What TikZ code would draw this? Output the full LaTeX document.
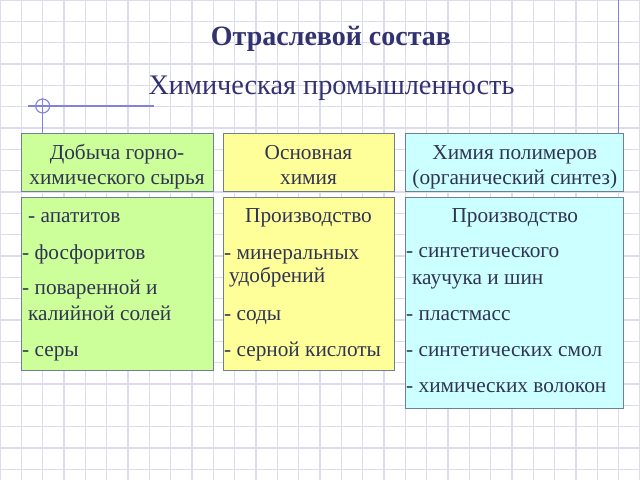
\documentclass[tikz,border=0pt]{standalone}
\usepackage{fontspec}
\setmainfont{Liberation Serif}
\usetikzlibrary{positioning}

\definecolor{gridc}{RGB}{220,220,240}
\definecolor{ornament}{RGB}{130,130,220}
\definecolor{titleblue}{RGB}{50,50,112}
\definecolor{textc}{RGB}{48,52,84}
\definecolor{boxline}{RGB}{112,126,150}
\definecolor{greenfill}{RGB}{204,255,153}
\definecolor{yellowfill}{RGB}{255,255,153}
\definecolor{cyanfill}{RGB}{204,255,255}

\tikzset{
  panel/.style={rectangle, draw=boxline, line width=0.8pt, inner sep=0pt},
  boxtext/.style={font=\fontsize{21.3}{26}\selectfont, text=textc, inner sep=0pt},
  deco/.style={draw=ornament, line width=1.1pt}
}

\begin{document}
\begin{tikzpicture}[x=1pt,y=-1pt]

    \useasboundingbox (0,0) rectangle (640,480);
    \fill[white] (0,0) rectangle (640,480);

    % paper grid
    \draw[gridc, line width=1.2pt, step=21.3333pt] (0,0) grid (640,480);

    % slide ornaments
    \coordinate (hl) at (28,106);
    \coordinate (hr) at (154,106);
    \coordinate (vt) at (42.7,98);
    \coordinate (vb) at (42.7,140);
    \coordinate (mt) at (618.7,0);
    \coordinate (mb) at (618.7,140);
    \draw[deco] (hl) -- (hr);
    \draw[deco] (vt) -- (vb);
    \draw[deco] (42.7,106) circle (7);
    \draw[deco] (mt) -- (mb);

    % titles
    \node[font=\fontsize{28}{30}\selectfont\bfseries, text=titleblue,
          anchor=base, inner sep=0pt] (title) at (331,45) {Отраслевой состав};
    \node[font=\fontsize{28.3}{30}\selectfont, text=titleblue,
          anchor=base, inner sep=0pt] (subtitle) at (331.5,94) {Химическая промышленность};

    % column heads
    \node[panel,
          fill = greenfill,
          minimum width = 192, 
          minimum height = 58] (mining) at (117,162) {};
    \node[boxtext, anchor=base] at (117,159.5) {Добыча горно-};
    \node[boxtext, anchor=base] at (117,184.5) {химического сырья};

    \node[panel,
          fill = yellowfill,
          minimum width = 171, 
          minimum height = 58] (basic) at (308.5,162) {};
    \node[boxtext, anchor=base] at (308.5,159.5) {Основная};
    \node[boxtext, anchor=base] at (308.5,184.5) {химия};

    \node[panel,
          fill = cyanfill,
          minimum width = 218, 
          minimum height = 58] (polymer) at (514.8,162) {};
    \node[boxtext, anchor=base] at (514.8,159.5) {Химия полимеров};
    \node[boxtext, anchor=base] at (514.8,184.5) {(органический синтез)};

    % column bodies
    \node[panel,
          fill = greenfill,
          minimum width = 192, 
          minimum height = 173] (miningL) at (117,283.5) {};
    \node[boxtext, anchor=base west] (m1) at (28,222) {- апатитов};
    \node[boxtext, anchor=base west] (m2) at (22,259) {- фосфоритов};
    \node[boxtext, anchor=base west] (m3) at (22,294) {- поваренной и};
    \node[boxtext, anchor=base west] (m4) at (28,320) {калийной солей};
    \node[boxtext, anchor=base west] (m5) at (22,356) {- серы};

    \node[panel,
          fill = yellowfill,
          minimum width = 171, 
          minimum height = 173] (basicL) at (308.5,283.5) {};
    \node[boxtext, anchor=base] (b0) at (308.5,222) {Производство};
    \node[boxtext, anchor=base west] (b1) at (224,259) {- минеральных};
    \node[boxtext, anchor=base west] (b2) at (229,282) {удобрений};
    \node[boxtext, anchor=base west] (b3) at (224,320) {- соды};
    \node[boxtext, anchor=base west] (b4) at (224,356) {- серной кислоты};

    \node[panel,
          fill = cyanfill,
          minimum width = 218, 
          minimum height = 211] (polymerL) at (514.8,302.7) {};
    \node[boxtext, anchor=base] (p0) at (514.8,222) {Производство};
    \node[boxtext, anchor=base west] (p1) at (406,257) {- синтетического};
    \node[boxtext, anchor=base west] (p2) at (412,284) {каучука и шин};
    \node[boxtext, anchor=base west] (p3) at (406,320) {- пластмасс};
    \node[boxtext, anchor=base west] (p4) at (406,356) {- синтетических смол};
    \node[boxtext, anchor=base west] (p5) at (406,392) {- химических волокон};

\end{tikzpicture}
\end{document}
